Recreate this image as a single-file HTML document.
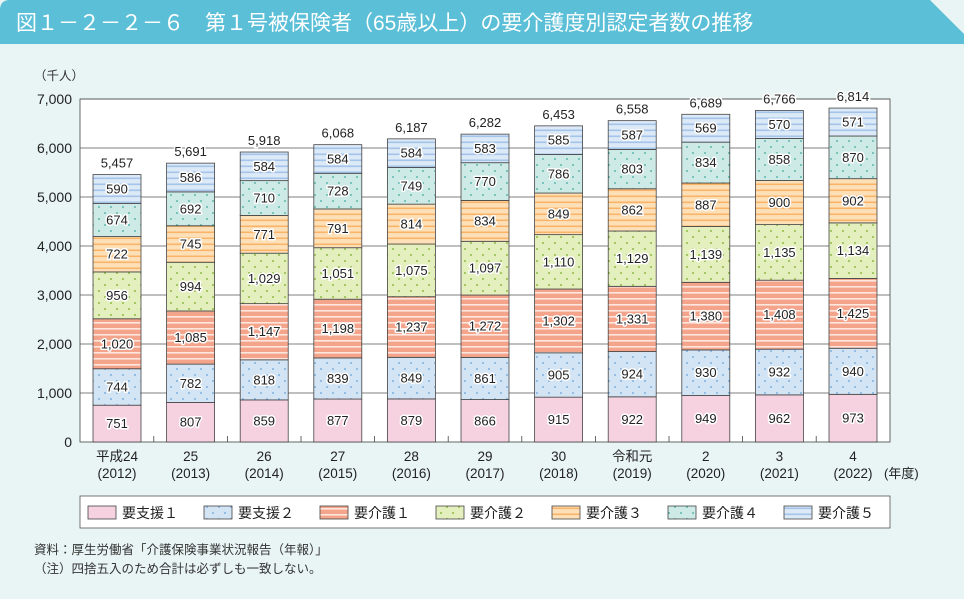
<!DOCTYPE html>
<html><head><meta charset="utf-8"><style>
body{margin:0;width:964px;height:599px;overflow:hidden;background:#fff;font-family:"Liberation Sans","Noto Sans CJK JP",sans-serif}
</style></head><body>
<svg id="s" width="964" height="599" xmlns="http://www.w3.org/2000/svg" font-family="Liberation Sans, Noto Sans CJK JP, sans-serif">
<defs>
<pattern id="p2" width="12" height="12" patternUnits="userSpaceOnUse"><rect width="12" height="12" fill="#d3e5f5"/><circle cx="3" cy="3" r="1" fill="#7fb0dc"/><circle cx="9" cy="9" r="1" fill="#7fb0dc"/></pattern>
<pattern id="p3" width="6" height="6" patternUnits="userSpaceOnUse"><rect width="6" height="6" fill="#f5a48c"/><rect y="4" width="6" height="1.6" fill="#fde6de"/></pattern>
<pattern id="p4" width="12" height="12" patternUnits="userSpaceOnUse"><rect width="12" height="12" fill="#e4efbe"/><circle cx="3" cy="3" r="1.1" fill="#9cc35a"/><circle cx="9" cy="9" r="1.1" fill="#9cc35a"/></pattern>
<pattern id="p5" width="6" height="6" patternUnits="userSpaceOnUse"><rect width="6" height="6" fill="#fde0b8"/><rect y="3.5" width="6" height="1.6" fill="#f9b46a"/></pattern>
<pattern id="p6" width="12" height="12" patternUnits="userSpaceOnUse"><rect width="12" height="12" fill="#cdeae6"/><circle cx="3" cy="3" r="1" fill="#5fb8ad"/><circle cx="9" cy="9" r="1" fill="#5fb8ad"/></pattern>
<pattern id="p7" width="6" height="6" patternUnits="userSpaceOnUse"><rect width="6" height="6" fill="#dce9f7"/><rect y="3.5" width="6" height="1.6" fill="#a4c4e9"/></pattern>
</defs>
<rect x="0" y="0" width="964" height="599" fill="#e9f5f4"/>
<path d="M0 10 Q0 0 10 0 L930 0 L964 34 L964 44 L0 44Z" fill="#5bbfd7"/>
<text x="16" y="30" font-size="21" fill="#fff">図１－２－２－６　第１号被保険者（65歳以上）の要介護度別認定者数の推移</text>
<text x="34" y="80" font-size="12.5" fill="#333">（千人）</text>
<rect x="80" y="99" width="810" height="343" fill="#fff" stroke="#444" stroke-width="0.8"/>
<g id="g"></g>
<rect x="80" y="496" width="810" height="32" fill="#fff" stroke="#555" stroke-width="0.8"/>
<g id="lg"></g>
<text x="34" y="554" font-size="12.5" fill="#333">資料：厚生労働省「介護保険事業状況報告（年報）」</text>
<text x="34" y="573" font-size="12.5" fill="#333">（注）四捨五入のため合計は必ずしも一致しない。</text>
</svg>
<script>
var d=[[751,744,1020,956,722,674,590],[807,782,1085,994,745,692,586],[859,818,1147,1029,771,710,584],[877,839,1198,1051,791,728,584],[879,849,1237,1075,814,749,584],[866,861,1272,1097,834,770,583],[915,905,1302,1110,849,786,585],[922,924,1331,1129,862,803,587],[949,930,1380,1139,887,834,569],[962,932,1408,1135,900,858,570],[973,940,1425,1134,902,870,571]];
var tot=["5,457","5,691","5,918","6,068","6,187","6,282","6,453","6,558","6,689","6,766","6,814"];
var xl=[["平成24","(2012)"],["25","(2013)"],["26","(2014)"],["27","(2015)"],["28","(2016)"],["29","(2017)"],["30","(2018)"],["令和元","(2019)"],["2","(2020)"],["3","(2021)"],["4","(2022)"]];
var fills=["#f6d2e0","url(#p2)","url(#p3)","url(#p4)","url(#p5)","url(#p6)","url(#p7)"];
var h="";function Y(v){return 442-v*0.049;}
for(var i=1;i<=7;i++){h+='<line x1="80" x2="890" y1="'+Y(i*1000)+'" y2="'+Y(i*1000)+'" stroke="#555" stroke-width="0.7"/>';}
for(var i=0;i<=7;i++){h+='<text x="72" y="'+(Y(i*1000)+5)+'" font-size="14" fill="#222" text-anchor="end">'+(i?i+",000":"0")+'</text>';}
function f(n){return n>=1000?Math.floor(n/1000)+","+String(n%1000).padStart(3,"0"):n;}
for(var j=0;j<11;j++){var cx=117+j*73.6,x=cx-24,c=0;
 if(j<10)h+='<line x1="'+(cx+36.8)+'" x2="'+(cx+36.8)+'" y1="436" y2="442" stroke="#444" stroke-width="0.8"/>';
 for(var k=0;k<7;k++){var v=d[j][k],y1=Y(c),y2=Y(c+v);
  h+='<rect x="'+x+'" y="'+y2+'" width="48" height="'+(y1-y2)+'" fill="'+fills[k]+'" stroke="#444" stroke-width="0.8"/>';
  h+='<text x="'+cx+'" y="'+((y1+y2)/2+4.5)+'" font-size="13" fill="#222" text-anchor="middle" stroke="#fff" stroke-width="3" paint-order="stroke" stroke-linejoin="round">'+f(v)+'</text>';c+=v;}
 h+='<text x="'+cx+'" y="'+(Y(c)-7)+'" font-size="13" fill="#222" text-anchor="middle" stroke="#fff" stroke-width="3" paint-order="stroke">'+tot[j]+'</text>';
 h+='<text x="'+cx+'" y="461" font-size="13.5" fill="#222" text-anchor="middle">'+xl[j][0]+'</text><text x="'+cx+'" y="478" font-size="13.5" fill="#222" text-anchor="middle">'+xl[j][1]+'</text>';}
h+='<text x="884" y="478" font-size="13" fill="#222">(年度)</text>';
document.getElementById("g").innerHTML=h;
var ln=["要支援１","要支援２","要介護１","要介護２","要介護３","要介護４","要介護５"],l="";
for(var k=0;k<7;k++){var x=88+k*116;l+='<rect x="'+x+'" y="506" width="28" height="13" fill="'+fills[k]+'" stroke="#444" stroke-width="0.8"/><text x="'+(x+34)+'" y="518" font-size="14" fill="#222">'+ln[k]+'</text>';}
document.getElementById("lg").innerHTML=l;
</script>
</body></html>
